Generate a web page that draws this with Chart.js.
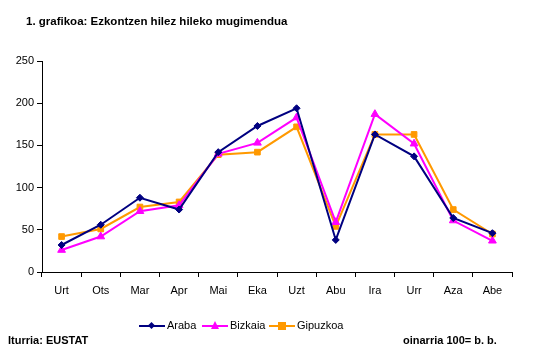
<!DOCTYPE html>
<html><head><meta charset="utf-8">
<script src="https://cdn.jsdelivr.net/npm/chart.js@4"></script>
<style>
html,body{margin:0;padding:0;background:#fff;}
#wrap{position:relative;width:537px;height:359px;font-family:"Liberation Sans",Arial,sans-serif;color:#000;}
canvas{position:absolute;left:0;top:0;}
.t{position:absolute;font-size:11px;white-space:nowrap;line-height:13px;}
.b{font-weight:bold;}
.item{position:absolute;top:319px;display:flex;align-items:center;font-size:11px;line-height:13px;white-space:nowrap;}
.sw{position:relative;width:26px;height:13px;margin-right:2px;}
.sw .ln{position:absolute;left:0;top:5.5px;width:26px;height:2px;}
.sw .mk{position:absolute;}
</style></head>
<body><div id="wrap">
<canvas id="c" width="537" height="359"></canvas>
<div class="t b" style="left:26px;top:15px;font-size:11.5px;">1. grafikoa: Ezkontzen hilez hileko mugimendua</div>
<div class="t b" style="left:8px;top:334px;">Iturria: EUSTAT</div>
<div class="t b" style="left:403px;top:334px;">oinarria 100= b. b.</div>
</div>
<script>
const categories = ["Urt","Ots","Mar","Apr","Mai","Eka","Uzt","Abu","Ira","Urr","Aza","Abe"];
const araba    = [32, 56, 88, 74, 142, 173, 194, 38, 163, 137, 64, 46];
const bizkaia  = [26, 42, 72, 79, 140, 153, 183, 59, 187, 152, 61, 37];
const gipuzkoa = [42, 51, 77, 83, 139, 142, 172, 54, 163, 163, 74, 45];
const yTicks   = [0, 50, 100, 150, 200, 250];
const seriesNames = ["Araba","Bizkaia","Gipuzkoa"];
const colors = ["#000080","#FF00FF","#FF9900"];

const styles = [
  {pointStyle:'rectRot', pointRadius:3.5},
  {pointStyle:'triangle', pointRadius:4.5},
  {pointStyle:'rect', pointRadius:4}
];
const values = [araba, bizkaia, gipuzkoa];

const datasets = values.map((v,i)=>({
  label: seriesNames[i],
  data: v,
  borderColor: colors[i],
  backgroundColor: colors[i],
  borderWidth: 2,
  pointStyle: styles[i].pointStyle,
  pointRadius: styles[i].pointRadius,
  pointBorderWidth: 1,
  tension: 0
}));

const font = {family:'"Liberation Sans", Arial, sans-serif', size:11};

new Chart(document.getElementById('c'), {
  type:'line',
  data:{labels:categories, datasets},
  options:{
    responsive:false, animation:false,
    layout:{padding:{left:0, top:61, right:25, bottom:0}},
    plugins:{legend:{display:false}, title:{display:false}, tooltip:{enabled:false}},
    scales:{
      x:{
        offset:true,
        grid:{offset:true, drawOnChartArea:false, tickLength:5, color:'#000', tickColor:'#000'},
        border:{color:'#000', width:1},
        ticks:{font, color:'#000', padding:7, maxRotation:0, autoSkip:false},
        afterFit:(s)=>{s.height = 87;}
      },
      y:{
        min:0, max:250,
        afterBuildTicks:(s)=>{s.ticks = yTicks.map(v=>({value:v}));},
        grid:{drawOnChartArea:false, tickLength:5, color:'#000', tickColor:'#000'},
        border:{color:'#000', width:1},
        ticks:{font, color:'#000', padding:3},
        afterFit:(s)=>{s.width = 42;}
      }
    }
  }
});

// HTML legend (positions of each entry)
const legendLeft = [139, 202, 269];
const wrap = document.getElementById('wrap');
seriesNames.forEach((n,i)=>{
  const it = document.createElement('div'); it.className='item'; it.style.left = legendLeft[i]+'px';
  const sw = document.createElement('div'); sw.className='sw';
  const ln = document.createElement('div'); ln.className='ln'; ln.style.background=colors[i];
  sw.appendChild(ln);
  const mk = document.createElement('div'); mk.className='mk';
  if(i===0){ mk.style.cssText='left:10px;top:3.5px;width:5px;height:5px;background:'+colors[i]+';transform:rotate(45deg);'; }
  else if(i===1){ mk.style.cssText='left:9px;top:2px;width:0;height:0;border-left:4.5px solid transparent;border-right:4.5px solid transparent;border-bottom:8px solid '+colors[i]+';'; }
  else { mk.style.cssText='left:9px;top:2.5px;width:8px;height:8px;background:'+colors[i]+';'; }
  sw.appendChild(mk);
  const tx = document.createElement('span'); tx.textContent=n;
  it.appendChild(sw); it.appendChild(tx); wrap.appendChild(it);
});
</script>
</body></html>
